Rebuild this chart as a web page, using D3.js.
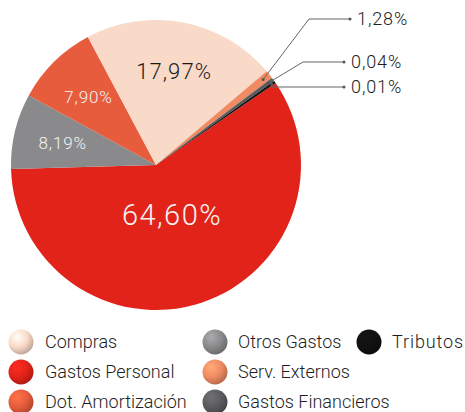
<!DOCTYPE html>
<html>
<head>
<meta charset="utf-8">
<script src="https://cdn.jsdelivr.net/npm/d3@7"></script>
<style>
  body { margin: 0; background: #fff; }
  text { font-family: Roboto, "Liberation Sans", sans-serif; font-weight: 300; }
</style>
</head>
<body>
<script>
var width = 465,
  height = 412;

// slices, clockwise from the red one
var categorias = ["Gastos Personal", "Otros Gastos", "Dot. Amortización", "Compras", "Serv. Externos", "Gastos Financieros", "Tributos"];
// share of the circle as drawn in the picture
var porcion = [59.1, 8.4, 9.25, 21.6, 0.92, 0.42, 0.28];
var etiquetas = ["64,60%", "8,19%", "7,90%", "17,97%", "1,28%", "0,04%", "0,01%"];
var colores = ["#e2231a", "#8a8a8c", "#e65c3c", "#f9d9c8", "#ef8a62", "#5b5b5d", "#111111"];

// legend order (by column)
var leyenda = ["Compras", "Gastos Personal", "Dot. Amortización", "Otros Gastos", "Serv. Externos", "Gastos Financieros", "Tributos"];

var data = categorias.map(function (c, i) {
  return { nombre: c, valor: porcion[i], texto: etiquetas[i], color: colores[i] };
});

var svg = d3.select("body").append("svg")
  .attr("width", width)
  .attr("height", height);

var cx = 156, cy = 165, R = 145;
var start = 55.6 * Math.PI / 180;

var base = d3.pie().sort(null).value(function (d) { return d.valor; })
  .startAngle(start).endAngle(start + 2 * Math.PI)(data);

var arco = d3.arc().innerRadius(0).outerRadius(R);

var g = svg.append("g").attr("transform", "translate(" + cx + "," + cy + ")");

g.selectAll("path").data(base).enter().append("path")
  .attr("d", arco)
  .attr("fill", function (d) { return d.data.color; });

// inside labels for the big slices
var grandes = base.filter(function (d) { return d.data.valor > 5; });
g.selectAll("text.inside").data(grandes).enter().append("text")
  .classed("inside", true)
  .each(function (d) {
    var r = d.data.valor > 50 ? 52 : 96;
    var c = d3.arc().innerRadius(r).outerRadius(r).centroid(d);
    var size = d.data.valor > 50 ? 29 : (d.data.valor > 15 ? 22 : 17);
    d3.select(this)
      .attr("x", c[0])
      .attr("y", c[1])
      .attr("text-anchor", "middle")
      .attr("dy", "0.36em")
      .style("font-size", size + "px")
      .style("letter-spacing", "0.05em")
      .style("fill", d.data.nombre == "Compras" ? "#1a1a1a" : "#f4f4f4")
      .text(d.data.texto);
  });

// callouts for the thin slices
var chicos = base.filter(function (d) { return d.data.valor < 5; });
var codos = [[309, 19], [303, 62], [null, 87]];
var finX = [350, 344, 344];
var callout = svg.append("g").selectAll("g").data(chicos).enter().append("g");
callout.each(function (d, i) {
  var a = (d.startAngle + d.endAngle) / 2;
  var r0 = R - 8 + i * 2;
  var p0 = [cx + r0 * Math.sin(a), cy - r0 * Math.cos(a)];
  var codo = codos[i][0] == null ? [p0[0], codos[i][1]] : codos[i];
  var pts = [p0, codo, [finX[i], codos[i][1]]];
  var el = d3.select(this);
  el.append("path")
    .attr("d", d3.line()(pts))
    .attr("fill", "none")
    .attr("stroke", "#666")
    .attr("stroke-width", 1);
  el.append("circle").attr("cx", p0[0]).attr("cy", p0[1]).attr("r", 1.5).attr("fill", "#555");
  el.append("circle").attr("cx", finX[i]).attr("cy", codos[i][1]).attr("r", 1.5).attr("fill", "#555");
  el.append("text")
    .attr("x", finX[i] + 7)
    .attr("y", codos[i][1])
    .attr("dy", "0.36em")
    .style("font-size", "18px")
    .style("letter-spacing", "0.05em")
    .style("fill", "#222")
    .text(d.data.texto);
});

// legend with shaded dots
var defs = svg.append("defs");
var colorDe = {};
data.forEach(function (d) { colorDe[d.nombre] = d.color; });
leyenda.forEach(function (n, i) {
  var c = d3.color(colorDe[n]);
  var gr = defs.append("radialGradient").attr("id", "grad" + i)
    .attr("cx", "35%").attr("cy", "30%").attr("r", "75%");
  gr.append("stop").attr("offset", "0%").attr("stop-color", c.brighter(0.6));
  gr.append("stop").attr("offset", "55%").attr("stop-color", c);
  gr.append("stop").attr("offset", "100%").attr("stop-color", c.darker(0.8));
});

var colX = [21, 215, 369];
var textX = [45, 238, 392];
var filaY = [342, 372, 402];
var items = svg.append("g").selectAll("g").data(leyenda).enter().append("g")
  .attr("transform", function (d, i) {
    var col = Math.floor(i / 3), fila = i % 3;
    if (i == 6) { col = 2; fila = 0; }
    return "translate(" + colX[col] + "," + filaY[fila] + ")";
  });
items.append("circle")
  .attr("r", 12.5)
  .attr("fill", function (d, i) { return "url(#grad" + i + ")"; });
items.append("text")
  .attr("x", function (d, i) {
    var col = i == 6 ? 2 : Math.floor(i / 3);
    return textX[col] - colX[col];
  })
  .attr("dy", "0.36em")
  .style("font-size", "18px")
  .style("letter-spacing", function (d) { return d == "Tributos" ? "0.05em" : null; })
  .style("fill", "#1e1e1e")
  .text(function (d) { return d; });
</script>
</body>
</html>
